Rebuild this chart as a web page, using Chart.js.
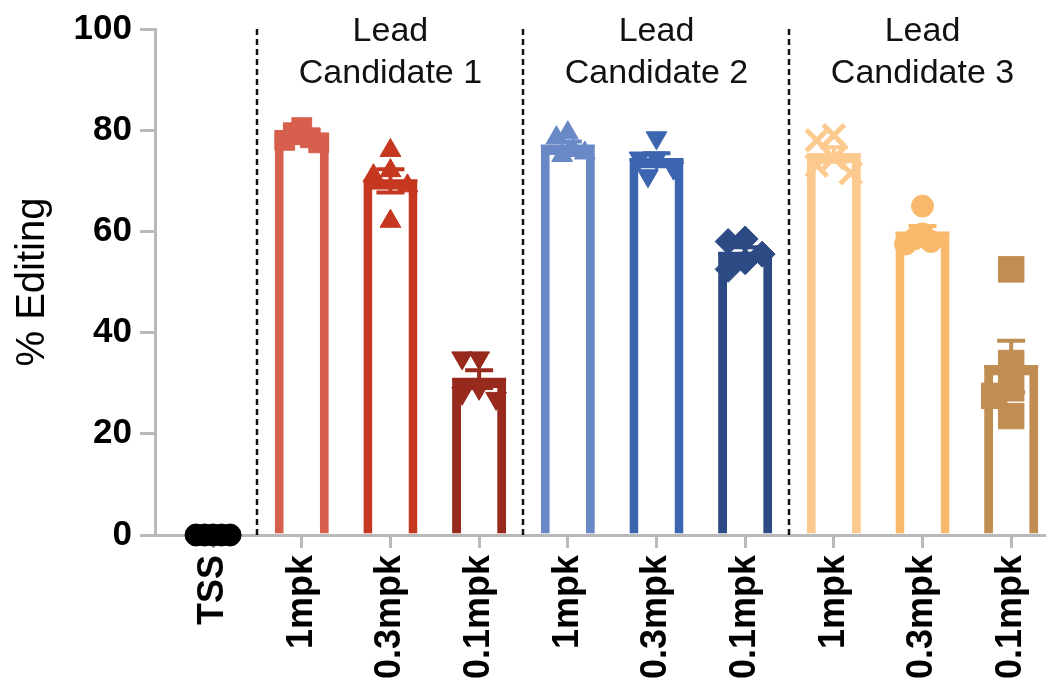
<!DOCTYPE html>
<html>
<head>
<meta charset="utf-8">
<script src="https://cdn.jsdelivr.net/npm/chart.js@4.4.1/dist/chart.umd.min.js"></script>
<style>
  html, body { margin: 0; padding: 0; background: #ffffff; }
  #wrap { width: 1064px; height: 689px; }
</style>
</head>
<body>
<div id="wrap"><canvas id="chart" width="1064" height="689"></canvas></div>
<script>
// ---- data ----
const categories = ['TSS', '1mpk', '0.3mpk', '0.1mpk', '1mpk', '0.3mpk', '0.1mpk', '1mpk', '0.3mpk', '0.1mpk'];

// individual animals, % editing
const tss      = [0, 0, 0, 0, 0];
const lc1_1    = [80.5, 79.5, 78.5, 78, 77.5];
const lc1_03   = [76, 71, 72, 69, 62];
const lc1_01   = [35, 35, 29, 27, 28];
const lc2_1    = [79.5, 78.5, 76, 75, 75.5];
const lc2_03   = [78.5, 74.5, 74.5, 71, 72.5];
const lc2_01   = [58.5, 58, 55.5, 52.5, 54];
const lc3_1    = [79, 78, 71.5, 74.5, 73];
const lc3_03   = [65, 59.5, 58, 57.5, 58.5];
const lc3_01   = [52.5, 34, 29, 27.5, 23.5];

const series = [tss, lc1_1, lc1_03, lc1_01, lc2_1, lc2_03, lc2_01, lc3_1, lc3_03, lc3_01];

const groups = [
  { lines: ['Lead', 'Candidate 1'], members: [1, 2, 3] },
  { lines: ['Lead', 'Candidate 2'], members: [4, 5, 6] },
  { lines: ['Lead', 'Candidate 3'], members: [7, 8, 9] }
];

const yTicks = [0, 20, 40, 60, 80, 100];

// ---- styling ----
const colors = ['#000000', '#d6604d', '#c5381f', '#972a1d', '#6888c6', '#3c65b0', '#2c4a84', '#fcca8f', '#f9b96c', '#c08d52'];
const markers = [
  { style: 'circle',   radius: 11, rotation: 0,   border: 1 },
  { style: 'rect',     radius: 14, rotation: 0,   border: 1 },
  { style: 'triangle', radius: 12, rotation: 0,   border: 1 },
  { style: 'triangle', radius: 12, rotation: 180, border: 1 },
  { style: 'triangle', radius: 12, rotation: 0,   border: 1 },
  { style: 'triangle', radius: 12, rotation: 180, border: 1 },
  { style: 'rectRot',  radius: 13, rotation: 0,   border: 1 },
  { style: 'crossRot', radius: 15, rotation: 0,   border: 5 },
  { style: 'circle',   radius: 11, rotation: 0,   border: 1 },
  { style: 'rect',     radius: 18, rotation: 0,   border: 1 }
];
const FONT = '"Liberation Sans", Arial, Helvetica, sans-serif';
const AXIS_GREY = '#b9b9b9';

// ---- summary statistics (mean and SEM per group) ----
const mean = a => a.reduce((s, v) => s + v, 0) / a.length;
const sem = a => {
  const m = mean(a);
  const sd = Math.sqrt(a.reduce((s, v) => s + (v - m) * (v - m), 0) / (a.length - 1));
  return sd / Math.sqrt(a.length);
};
const means = series.map(mean);
const sems = series.map(sem);

// ---- datasets ----
const barDataset = {
  type: 'bar',
  order: 2,
  data: means.map((m, i) => ({ x: i, y: m })),
  backgroundColor: '#ffffff',
  borderColor: colors,
  borderWidth: 9,
  borderSkipped: 'start',
  barPercentage: 0.61,
  categoryPercentage: 1
};

const pointDatasets = series.map((vals, i) => ({
  type: 'scatter',
  order: 1,
  data: vals.map(v => ({ x: i, y: v })),
  pointStyle: markers[i].style,
  pointRadius: markers[i].radius,
  pointHoverRadius: markers[i].radius,
  pointRotation: markers[i].rotation,
  pointBackgroundColor: colors[i],
  pointBorderColor: colors[i],
  pointBorderWidth: markers[i].border,
  clip: false
}));

// mean ± SEM drawn right after the bars, beneath the scatter points
const errorBars = {
  id: 'errorBars',
  afterDatasetDraw(chart, args) {
    if (args.index !== 0) return;
    const { ctx } = chart;
    const ys = chart.scales.y;
    ctx.save();
    ctx.lineCap = 'butt';
    args.meta.data.forEach((bar, i) => {
      const x = bar.x;
      const top = ys.getPixelForValue(means[i] + sems[i]);
      const bot = ys.getPixelForValue(means[i] - sems[i]);
      const mid = ys.getPixelForValue(means[i]);
      ctx.strokeStyle = colors[i];
      ctx.lineWidth = 4;
      ctx.beginPath();
      ctx.moveTo(x, top); ctx.lineTo(x, bot);
      ctx.moveTo(x - 14, top); ctx.lineTo(x + 14, top);
      ctx.moveTo(x - 14, bot); ctx.lineTo(x + 14, bot);
      ctx.stroke();
      ctx.lineWidth = 3;
      ctx.beginPath();
      ctx.moveTo(x - bar.width / 2, mid); ctx.lineTo(x + bar.width / 2, mid);
      ctx.stroke();
    });
    ctx.restore();
  }
};

// group separators and group titles
const groupDecor = {
  id: 'groupDecor',
  afterDraw(chart) {
    const { ctx, chartArea } = chart;
    const xs = chart.scales.x;
    ctx.save();
    ctx.strokeStyle = '#111111';
    ctx.lineWidth = 2.5;
    ctx.setLineDash([6, 4]);
    groups.forEach(g => {
      const px = Math.round(xs.getPixelForValue(Math.min(...g.members) - 0.5));
      ctx.beginPath();
      ctx.moveTo(px, chartArea.top);
      ctx.lineTo(px, chartArea.bottom);
      ctx.stroke();
    });
    ctx.setLineDash([]);
    ctx.fillStyle = '#111111';
    ctx.font = '34px ' + FONT;
    ctx.textAlign = 'center';
    ctx.textBaseline = 'alphabetic';
    groups.forEach(g => {
      const cx = xs.getPixelForValue(mean(g.members));
      g.lines.forEach((line, k) => ctx.fillText(line, cx, 41 + k * 42));
    });
    ctx.restore();
  }
};

// spread overlapping points sideways (simple beeswarm in pixel space)
function swarm(pixYs, diam, step, limit) {
  const order = pixYs.map((_, i) => i).sort((a, b) => pixYs[a] - pixYs[b]);
  const placed = [];
  const off = pixYs.map(() => 0);
  order.forEach(i => {
    for (let k = 0; k < 60; k++) {
      const o = k === 0 ? 0 : (k % 2 ? -1 : 1) * Math.ceil(k / 2) * step;
      if (placed.every(p => Math.hypot(p.x - o, p.y - pixYs[i]) >= diam)) {
        off[i] = o;
        placed.push({ x: o, y: pixYs[i] });
        break;
      }
    }
  });
  const maxAbs = Math.max(...off.map(Math.abs));
  if (maxAbs > limit) return off.map(o => o * limit / maxAbs);
  return off;
}

const chart = new Chart(document.getElementById('chart'), {
  data: { datasets: [barDataset, ...pointDatasets] },
  options: {
    responsive: false,
    animation: false,
    devicePixelRatio: 1,
    layout: { padding: { top: 25, right: 6, bottom: 0, left: 0 } },
    plugins: { legend: { display: false }, tooltip: { enabled: false } },
    scales: {
      x: {
        type: 'linear',
        offset: false,
        min: -0.655,
        max: 9.37,
        afterBuildTicks: s => { s.ticks = categories.map((_, i) => ({ value: i })); },
        afterFit: s => { s.height = 154; s.paddingLeft = 0; s.paddingRight = 0; },
        ticks: {
          autoSkip: false,
          minRotation: 90,
          maxRotation: 90,
          padding: 7,
          color: '#000000',
          font: { family: FONT, size: 36, weight: 'bold' },
          callback: v => categories[v]
        },
        grid: { offset: false, drawOnChartArea: false, drawTicks: true, tickLength: 13, color: AXIS_GREY, lineWidth: 3 },
        border: { display: true, color: AXIS_GREY, width: 3 }
      },
      y: {
        min: 0,
        max: 100,
        afterBuildTicks: s => { s.ticks = yTicks.map(v => ({ value: v })); },
        afterFit: s => { s.width = 155; },
        ticks: {
          padding: 8,
          color: '#000000',
          font: { family: FONT, size: 35, weight: 'bold' }
        },
        grid: { drawOnChartArea: false, drawTicks: true, tickLength: 15, color: AXIS_GREY, lineWidth: 3 },
        border: { display: true, color: AXIS_GREY, width: 3 },
        title: {
          display: true,
          text: '% Editing',
          color: '#000000',
          padding: { top: 9, bottom: 0 },
          font: { family: FONT, size: 40 }
        }
      }
    }
  },
  plugins: [errorBars, groupDecor]
});

// place the individual points once the scales are laid out
(function spreadPoints() {
  const xs = chart.scales.x, ys = chart.scales.y;
  const pxPerCat = xs.getPixelForValue(1) - xs.getPixelForValue(0);
  series.forEach((vals, i) => {
    const offs = swarm(vals.map(v => ys.getPixelForValue(v)), 18, 9, 17);
    chart.data.datasets[i + 1].data = vals.map((v, k) => ({ x: i + offs[k] / pxPerCat, y: v }));
  });
  chart.update('none');
})();
</script>
</body>
</html>
